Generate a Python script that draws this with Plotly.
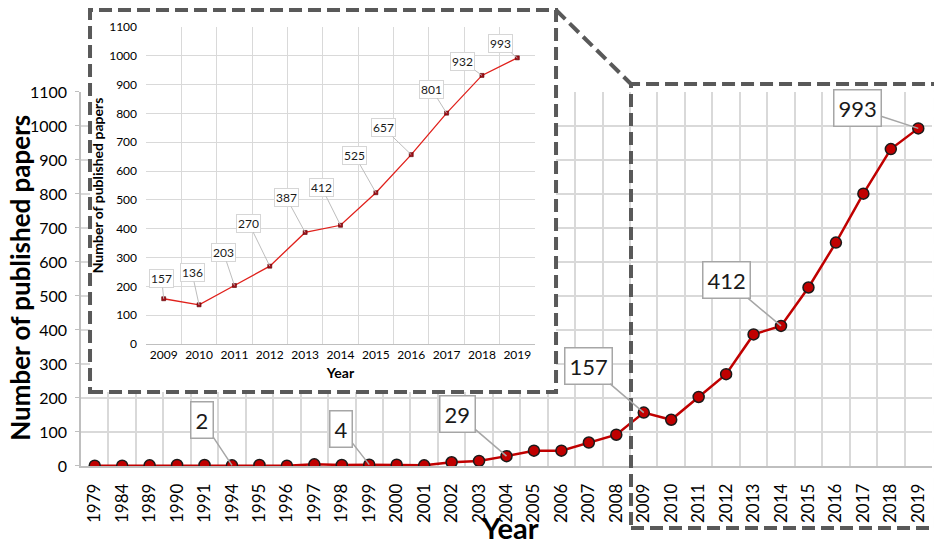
import plotly.graph_objects as go

# =========================
# DATA
# =========================

years = ["1979", "1984", "1989", "1990", "1991", "1994", "1995", "1996", "1997",
         "1998", "1999", "2000", "2001", "2002", "2003", "2004", "2005", "2006",
         "2007", "2008", "2009", "2010", "2011", "2012", "2013", "2014", "2015",
         "2016", "2017", "2018", "2019"]
papers = [1, 1, 2, 3, 3, 2, 3, 1, 5, 3, 4, 4, 2, 11, 15, 29, 45, 45, 69, 92,
          157, 136, 203, 270, 387, 412, 525, 657, 801, 932, 993]

labelled_years = ["1994", "1999", "2004", "2009", "2014", "2019"]

inset_years = ["2009", "2010", "2011", "2012", "2013", "2014", "2015", "2016",
               "2017", "2018", "2019"]
inset_papers = [157, 136, 203, 270, 387, 412, 525, 657, 801, 932, 993]

# label offsets in pixels (style only)
main_offsets = [(-30, -45), (-28, -36), (-49, -42), (-55, -47), (-55, -46), (-61, -20)]
inset_offsets = [(-2, -20), (-7, -32), (-11, -33), (-21, -43), (-19, -35), (-19, -38),
                 (-21, -37), (-28, -27), (-15, -24), (-19, -14), (-17, -14)]

FONT = "Lato"
GRID = "#d9d9d9"
AXIS = "#bfbfbf"
DASH = "#595959"

# frames in paper coords
BOX = (0.0106, 0.5582, 0.1616, 0.9956)      # inset
ZOOM = (0.6463, 1.0047, -0.1354, 0.8341)    # zoomed region

# =========================
# FIGURE
# =========================

fig = go.Figure()

fig.add_trace(go.Scatter(
    x=years, y=papers, mode="lines+markers",
    line=dict(color="#c00000", width=2.5),
    marker=dict(size=11, color="#c00000", line=dict(color="#1a1a1a", width=1.5)),
    xaxis="x", yaxis="y", hoverinfo="skip"
))

# white panel behind the inset (own hidden subplot, drawn above the main one)
fig.add_trace(go.Scatter(
    x=[0, 1, 1, 0, 0], y=[0, 0, 1, 1, 0], mode="lines", fill="toself",
    fillcolor="white", line=dict(width=0, color="white"),
    xaxis="x2", yaxis="y2", hoverinfo="skip"
))

fig.add_trace(go.Scatter(
    x=inset_years, y=inset_papers, mode="lines+markers",
    line=dict(color="#e0201b", width=1.3),
    marker=dict(size=4, symbol="square", color="#a0101a", line=dict(color="#5a0000", width=0.6)),
    xaxis="x3", yaxis="y3", hoverinfo="skip"
))

annotations = []

# main data labels (x given as category index)
for yr, (ax, ay) in zip(labelled_years, main_offsets):
    i = years.index(yr)
    annotations.append(dict(
        x=i, y=papers[i], xref="x", yref="y",
        text=str(papers[i]), showarrow=True, arrowhead=0,
        arrowwidth=1.5, arrowcolor="#a6a6a6", ax=ax, ay=ay, standoff=0,
        font=dict(family=FONT, size=22, color="#1a1a1a"),
        bgcolor="white", bordercolor="#a6a6a6", borderwidth=1.5, borderpad=4
    ))

# inset data labels
for i, (val, (ax, ay)) in enumerate(zip(inset_papers, inset_offsets)):
    annotations.append(dict(
        x=i, y=val, xref="x3", yref="y3",
        text=str(val), showarrow=True, arrowhead=0,
        arrowwidth=1, arrowcolor="#bdbdbd", ax=ax, ay=ay, standoff=0,
        font=dict(family=FONT, size=12, color="#1a1a1a"),
        bgcolor="white", bordercolor="#d6d6d6", borderwidth=1, borderpad=1
    ))

# main axis titles
annotations.append(dict(
    x=0.504, y=-0.1332, xref="paper", yref="paper", showarrow=False,
    text="<b>Year</b>", font=dict(family=FONT, size=29, color="black"),
    xanchor="center", yanchor="middle"
))
annotations.append(dict(
    x=-0.071, y=0.41, xref="paper", yref="paper", showarrow=False,
    text="<b>Number of published papers</b>", textangle=-90,
    font=dict(family=FONT, size=26, color="black"),
    xanchor="center", yanchor="middle"
))

dash = "13px,6px"
shapes = [
    # inset frame
    dict(type="rect", xref="paper", yref="paper",
         x0=BOX[0], x1=BOX[1], y0=BOX[2], y1=BOX[3],
         line=dict(color=DASH, width=4, dash=dash), layer="above"),
    # zoom frame
    dict(type="rect", xref="paper", yref="paper",
         x0=ZOOM[0], x1=ZOOM[1], y0=ZOOM[2], y1=ZOOM[3],
         line=dict(color=DASH, width=4, dash=dash), layer="above"),
    # connector
    dict(type="line", xref="paper", yref="paper",
         x0=BOX[1], y0=BOX[3], x1=ZOOM[0], y1=ZOOM[3],
         line=dict(color=DASH, width=4, dash=dash), layer="above"),
]

fig.update_layout(
    width=942, height=552,
    margin=dict(l=73, r=18, t=0, b=94, autoexpand=False),
    plot_bgcolor="white", paper_bgcolor="white",
    showlegend=False,
    font=dict(family=FONT, color="black"),
    annotations=annotations,
    shapes=shapes,
    xaxis=dict(
        type="category", domain=[0, 1], anchor="y", automargin=False,
        range=[-0.5, len(years) - 0.5],
        tickson="boundaries", showgrid=True, gridcolor=GRID, gridwidth=1.5,
        showline=True, linecolor=AXIS, linewidth=1.5,
        ticks="", tickangle=-90, tickfont=dict(size=17, color="black"),
        ticklabelstandoff=9, fixedrange=True
    ),
    yaxis=dict(
        domain=[0, 0.8166], anchor="x", range=[0, 1100], dtick=100, automargin=False,
        showgrid=True, gridcolor=GRID, gridwidth=1.5,
        showline=True, linecolor=AXIS, linewidth=1.5,
        ticks="outside", ticklen=4, tickcolor=AXIS,
        tickfont=dict(size=16, color="black"), zeroline=False,
        ticklabelstandoff=5, fixedrange=True
    ),
    xaxis2=dict(domain=[BOX[0], BOX[1]], anchor="y2", range=[0, 1], automargin=False,
                visible=False, showgrid=False, fixedrange=True),
    yaxis2=dict(domain=[BOX[2], BOX[3]], anchor="x2", range=[0, 1], automargin=False,
                visible=False, showgrid=False, fixedrange=True),
    xaxis3=dict(
        type="category", domain=[0.0764, 0.5335], anchor="y3", automargin=False,
        range=[-0.5, len(inset_years) - 0.5],
        tickson="boundaries", showgrid=True, gridcolor=GRID, gridwidth=1,
        showline=True, linecolor=AXIS, linewidth=1,
        ticks="", tickangle=0, tickfont=dict(size=12, color="black"),
        title=dict(text="<b>Year</b>", font=dict(size=14), standoff=6),
        fixedrange=True
    ),
    yaxis3=dict(
        domain=[0.2664, 0.9585], anchor="x3", range=[0, 1100], dtick=100, automargin=False,
        showgrid=True, gridcolor=GRID, gridwidth=1, zeroline=False,
        showline=False, ticks="", tickfont=dict(size=12, color="black"),
        ticklabelstandoff=8,
        title=dict(text="<b>Number of published papers</b>", font=dict(size=14), standoff=2),
        fixedrange=True
    ),
)

fig.write_html("out.html")
